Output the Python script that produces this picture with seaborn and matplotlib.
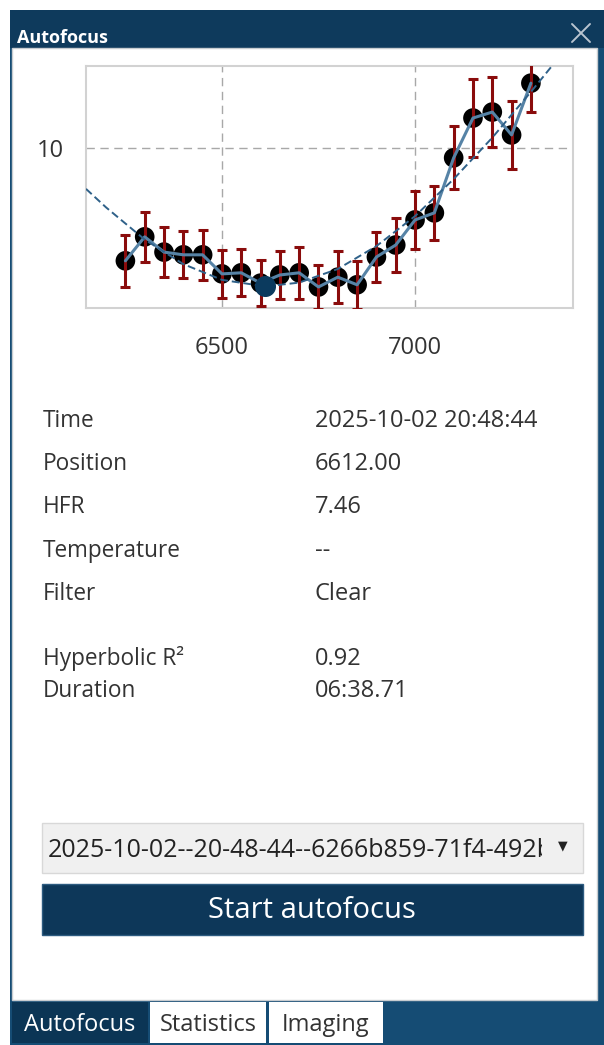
import matplotlib
matplotlib.use("Agg")
import matplotlib.pyplot as plt
import numpy as np
import pandas as pd
import seaborn as sns
from matplotlib.patches import Rectangle
from matplotlib.ticker import FixedLocator
from matplotlib.transforms import Bbox, TransformedBbox

positions = [6250, 6300, 6350, 6400, 6450, 6500, 6550, 6600, 6650, 6700, 6750,
             6800, 6850, 6900, 6950, 7000, 7050, 7100, 7150, 7200, 7250, 7300]
hfr = [7.93, 8.37, 8.09, 8.04, 8.04, 7.69, 7.71, 7.52, 7.67, 7.71, 7.45,
       7.63, 7.49, 8.00, 8.22, 8.68, 8.81, 9.82, 10.55, 10.66, 10.24, 11.19]
hfr_err = [0.48, 0.46, 0.46, 0.43, 0.46, 0.44, 0.43, 0.42, 0.44, 0.48, 0.40,
           0.48, 0.44, 0.46, 0.50, 0.54, 0.50, 0.58, 0.72, 0.64, 0.62, 0.52]

# hyperbolic fit curve
fit_positions = [6148, 6200, 6300, 6400, 6500, 6612, 6700, 6800, 6900, 7000,
                 7100, 7200, 7300, 7355]
fit_hfr = [9.25, 8.91, 8.32, 7.87, 7.58, 7.46, 7.53, 7.78, 8.20, 8.75,
           9.43, 10.19, 11.03, 11.51]

best_position = 6612.00
best_hfr = 7.46

info_labels = ["Time", "Position", "HFR", "Temperature", "Filter", "Hyperbolic R²", "Duration"]
info_values = ["2025-10-02 20:48:44", "6612.00", "7.46", "--", "Clear", "0.92", "06:38.71"]
info_baselines = [427, 470, 513, 557, 600, 665, 697]

tab_names = ["Autofocus", "Statistics", "Imaging"]
run_name = "2025-10-02--20-48-44--6266b859-71f4-492b"

sns.set_style("white")
plt.rcParams["font.family"] = ["Open Sans", "DejaVu Sans"]

W, H = 604, 1045
fig = plt.figure(figsize=(W / 100, H / 100), dpi=100)
fig.patch.set_facecolor("white")

# background "window" drawn in pixel coordinates
bg = fig.add_axes([0, 0, 1, 1], zorder=0)
bg.set_xlim(0, W)
bg.set_ylim(H, 0)
bg.axis("off")

frame_blue = "#154c74"
bg.add_patch(Rectangle((10, 10), W - 10, H - 10, color=frame_blue, lw=0))
bg.add_patch(Rectangle((10, 10), W - 10, 38, color="#0e3a5c", lw=0))
bg.add_patch(Rectangle((12, 48), 585, 952, fc="white", ec="#c8ccd0", lw=1))
bg.text(17, 43, "Autofocus", color="white", fontsize=13, weight="bold",
        ha="left", va="baseline")
bg.plot([572, 590], [24, 42], color="#b9c5d0", lw=1.4)
bg.plot([572, 590], [42, 24], color="#b9c5d0", lw=1.4)

text_color = "#333333"
for lab, val, yb in zip(info_labels, info_values, info_baselines):
    bg.text(43, yb, lab, color=text_color, fontsize=16.3, va="baseline")
    bg.text(315, yb, val, color=text_color, fontsize=17, va="baseline")

# run selector (name is cut off by the box, like in the app)
bg.add_patch(Rectangle((42, 823), 541, 50, fc="#f0f0f0", ec="#d8d8d8", lw=1))
t = bg.text(48, 857, run_name, color="#222222", fontsize=18, va="baseline")
t.set_clip_on(True)
t.set_clip_box(TransformedBbox(Bbox([[44, 823], [542, 873]]), bg.transData))
bg.text(563, 846, "▼", color="#222222", fontsize=9, ha="center", va="center",
        family="DejaVu Sans")

# button
bg.add_patch(Rectangle((42, 884), 541, 51, fc="#0d3759", ec="#2d5b80", lw=1))
bg.text(312, 911, "Start autofocus", color="white", fontsize=21, ha="center", va="center")

# tabs
tab_boxes = [(12, 136), (150, 116), (269, 114)]
for i, (name, (x0, w)) in enumerate(zip(tab_names, tab_boxes)):
    fc = "#0b3555" if i == 0 else "white"
    bg.add_patch(Rectangle((x0, 1002), w, 41, fc=fc, lw=0))
    bg.text(x0 + w / 2, 1025, name, color="white" if i == 0 else text_color,
            fontsize=17, ha="center", va="center")

# autofocus chart
ax_l, ax_r, ax_t, ax_b = 86, 573, 66, 308
ax = fig.add_axes([ax_l / W, 1 - ax_b / H, (ax_r - ax_l) / W, (ax_b - ax_t) / H], zorder=1)
ax.set_facecolor("white")

df = pd.DataFrame({"Position": positions, "HFR": hfr, "Err": hfr_err})
fit_df = pd.DataFrame({"Position": fit_positions, "HFR": fit_hfr})

sns.scatterplot(data=df, x="Position", y="HFR", s=200, color="black",
                edgecolor="none", ax=ax, zorder=2, legend=False)
ax.errorbar(df["Position"], df["HFR"], yerr=df["Err"], fmt="none",
            ecolor="#8a0c0c", elinewidth=2.2, capsize=3.5, capthick=2.2, zorder=3)
sns.lineplot(data=df, x="Position", y="HFR", color="#5683a6", lw=2.2,
             ax=ax, zorder=4, sort=False, errorbar=None)
sns.lineplot(data=fit_df, x="Position", y="HFR", color="#2f6189", lw=1.4,
             ax=ax, zorder=5, sort=False, errorbar=None, dashes=False)
ax.lines[-1].set_linestyle((0, (4, 2)))
ax.scatter([best_position], [best_hfr], s=200, color="#0b3a5e", zorder=6)

ax.set_xlim(6148, 7409)
ax.set_ylim(7.064, 11.505)
ax.xaxis.set_major_locator(FixedLocator([6500, 7000]))
ax.xaxis.set_minor_locator(FixedLocator(list(range(6200, 7401, 100))))
ax.yaxis.set_major_locator(FixedLocator([10]))
ax.yaxis.set_minor_locator(FixedLocator([8, 9, 11]))
ax.set_xlabel("")
ax.set_ylabel("")
ax.tick_params(which="both", direction="out", color="#4a7193", width=1.2,
               labelcolor=text_color, labelsize=17)
ax.tick_params(which="major", length=10)
ax.tick_params(axis="x", which="major", pad=10)
ax.tick_params(axis="y", which="major", pad=6)
ax.tick_params(axis="x", which="minor", length=5.5)
ax.tick_params(axis="y", which="minor", length=4)
for sp in ax.spines.values():
    sp.set_color("#d2d2d2")
    sp.set_linewidth(1.5)
ax.grid(which="major", color="#a8a8a8", ls=(0, (6, 4)), lw=1)
ax.set_axisbelow(True)

fig.savefig("out.png", dpi=100)
